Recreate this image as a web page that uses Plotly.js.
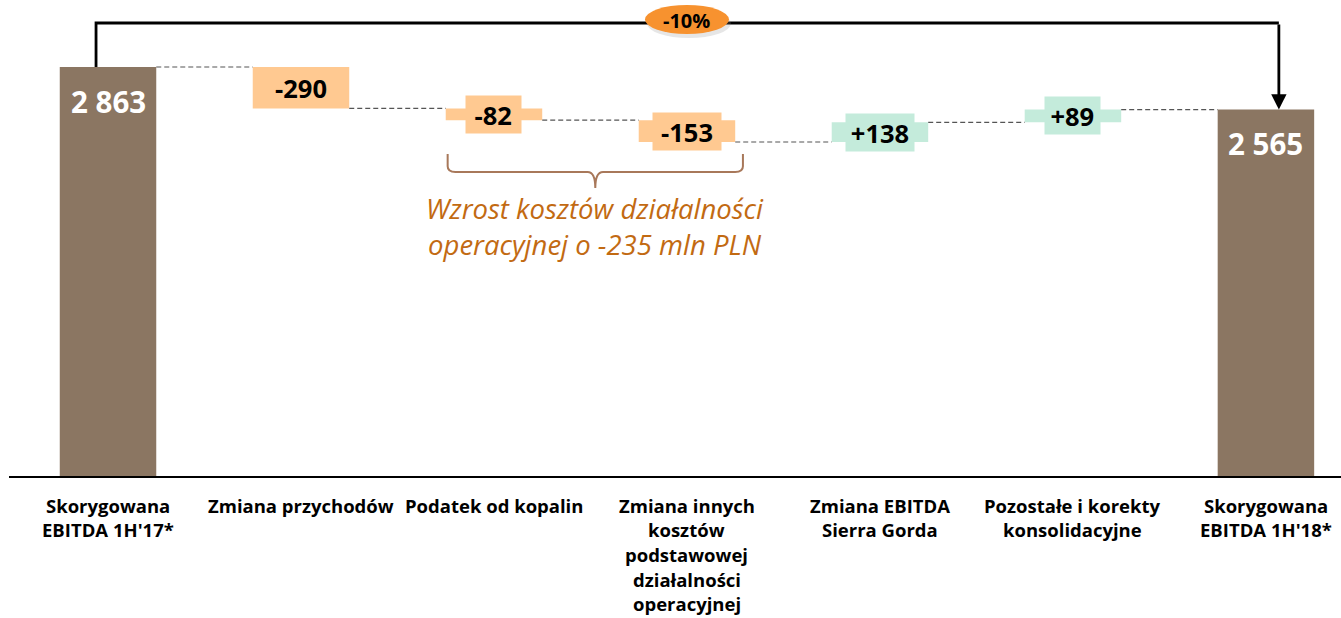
<!DOCTYPE html>
<html>
<head>
<meta charset="utf-8">
<script src="https://cdn.plot.ly/plotly-3.0.1.min.js"></script>
<style>html,body{margin:0;padding:0;background:#fff;}#chart{width:1341px;height:618px;}</style>
</head>
<body>
<div id="chart"></div>
<script>
const categories = [
  "Skorygowana<br>EBITDA 1H'17*",
  "Zmiana przychodów",
  "Podatek od kopalin",
  "Zmiana innych<br>kosztów<br>podstawowej<br>działalności<br>operacyjnej",
  "Zmiana EBITDA<br>Sierra Gorda",
  "Pozostałe i korekty<br>konsolidacyjne",
  "Skorygowana<br>EBITDA 1H'18*"
];
const measures = ["total", "relative", "relative", "relative", "relative", "relative", "total"];
const values = [2863, -290, -82, -153, 138, 89, 2565];
const valueLabels = ["2 863", "-290", "-82", "-153", "+138", "+89", "2 565"];
const changeLabel = "-10%";
const bracketNote = "Wzrost kosztów działalności<br>operacyjnej o -235 mln PLN";
const bracketFrom = 2, bracketTo = 3;

const FONT = "Open Sans, Noto Sans, sans-serif";
const C_TOTAL = "#8B7662", C_NEG = "#FFC991", C_POS = "#C4EBDB";

// compute bases
const bases = [], heights = [], ends = [];
let run = 0;
values.forEach((v, i) => {
  if (measures[i] === "total") { bases.push(0); heights.push(v); run = v; }
  else { const start = run; run = run + v; bases.push(Math.min(start, run)); heights.push(Math.abs(v)); }
  ends.push(run);
});
const idx = categories.map((_, i) => i);
const BW = 0.5;

function pick(cond) {
  const xs = [], ys = [], bs = [];
  idx.forEach(i => { if (cond(i)) { xs.push(i); ys.push(heights[i]); bs.push(bases[i]); } });
  return {x: xs, y: ys, base: bs};
}
const tot = pick(i => measures[i] === "total");
const neg = pick(i => measures[i] !== "total" && values[i] < 0);
const pos = pick(i => measures[i] !== "total" && values[i] >= 0);
const mk = (d, c) => ({type: "bar", x: d.x, y: d.y, base: d.base, width: BW, marker: {color: c, line: {width: 0}}, hoverinfo: "skip", showlegend: false});
const traces = [mk(tot, C_TOTAL), mk(neg, C_NEG), mk(pos, C_POS)];

const shapes = [];
const annotations = [];
// connectors
for (let i = 0; i < values.length - 1; i++) {
  shapes.push({type: "line", xref: "x", yref: "y", x0: i + BW / 2, x1: i + 1 - BW / 2, y0: ends[i], y1: ends[i],
    line: {color: "#555555", width: 1.2, dash: "5px,3px"}});
}
// value labels
idx.forEach(i => {
  if (measures[i] === "total") {
    annotations.push({x: i, y: heights[i], xref: "x", yref: "y", yanchor: "middle", yshift: -34, showarrow: false,
      text: "<b>" + valueLabels[i] + "</b>", font: {family: FONT, size: 29.5, color: "#ffffff"}});
  } else {
    const mid = bases[i] + heights[i] / 2;
    const w = valueLabels[i].length * 13.5 + 14;
    annotations.push({x: i, y: mid, xref: "x", yref: "y", yanchor: "middle", showarrow: false, width: w, height: 37,
      bgcolor: values[i] < 0 ? C_NEG : C_POS, borderpad: 0,
      text: "<b>" + valueLabels[i] + "</b>", font: {family: FONT, size: 25.5, color: "#000000"}});
  }
});
// category labels, one annotation per line
idx.forEach(i => {
  categories[i].split("<br>").forEach((ln, k) => {
    annotations.push({x: i, y: 0, xref: "x", yref: "paper", yanchor: "middle", yshift: -29 - 24.7 * k, showarrow: false,
      text: "<b>" + ln + "</b>", font: {family: FONT, size: 18.5, color: "#000000"}});
  });
});
// top bracket with arrow
const first = 0, last = values.length - 1;
const yTopLine = 3171;
const xl = first - 0.062, xr = last + 0.067;
shapes.push({type: "path", xref: "x", yref: "y",
  path: `M ${xl},${values[first]} L ${xl},${yTopLine} L ${xr},${yTopLine}`,
  line: {color: "#000000", width: 2.8}});
annotations.push({x: xr, y: values[last], ax: xr, ay: yTopLine, xref: "x", yref: "y", axref: "x", ayref: "y",
  showarrow: true, arrowhead: 2, arrowsize: 1.1, arrowwidth: 2.8, arrowcolor: "#000000", text: ""});
// ellipse with -10%
const xMidTop = 3;
shapes.push({type: "circle", xref: "x", yref: "y", xsizemode: "pixel", ysizemode: "pixel", xanchor: xMidTop, yanchor: yTopLine,
  x0: -40, x1: 44, y0: -15, y1: 14, fillcolor: "rgba(140,140,140,0.22)", line: {width: 0}});
shapes.push({type: "circle", xref: "x", yref: "y", xsizemode: "pixel", ysizemode: "pixel", xanchor: xMidTop, yanchor: yTopLine,
  x0: -42, x1: 42, y0: -11, y1: 18, fillcolor: "#F7922F", line: {width: 0}});
annotations.push({x: xMidTop, y: yTopLine, xref: "x", yref: "y", yshift: 3, showarrow: false,
  text: "<b>" + changeLabel + "</b>", font: {family: FONT, size: 20, color: "#000000"}});
// brace under cost bars
const bL = bracketFrom - 0.24, bR = bracketTo + 0.29, bM = (bL + bR) / 2;
const yB0 = 2254, yB1 = 2128, yB2 = 2016, dx = 0.04, dy = 40;
shapes.push({type: "path", xref: "x", yref: "y",
  path: `M ${bL},${yB0} L ${bL},${yB1 + dy} Q ${bL},${yB1} ${bL + dx},${yB1} L ${bM - dx},${yB1} Q ${bM},${yB1} ${bM},${yB2} Q ${bM},${yB1} ${bM + dx},${yB1} L ${bR - dx},${yB1} Q ${bR},${yB1} ${bR},${yB1 + dy} L ${bR},${yB0}`,
  line: {color: "#A8785A", width: 2}});
annotations.push({x: bM, y: 1746, xref: "x", yref: "y", yanchor: "middle", showarrow: false,
  text: "<i>" + bracketNote + "</i>", font: {family: FONT, size: 27.5, color: "#C26A12"}});

const layout = {
  width: 1341, height: 618,
  margin: {l: 9, r: 0, t: 0, b: 142},
  paper_bgcolor: "#ffffff", plot_bgcolor: "#ffffff",
  barmode: "overlay",
  xaxis: {range: [-0.513, 6.389], showgrid: false, zeroline: false, showticklabels: false, ticks: "",
    showline: true, linecolor: "#000000", linewidth: 2},
  yaxis: {range: [0, 3332], showgrid: false, zeroline: false, showticklabels: false, ticks: "", showline: false},
  shapes: shapes, annotations: annotations, showlegend: false,
  font: {family: FONT}
};
Plotly.newPlot("chart", traces, layout, {displayModeBar: false, staticPlot: true});
</script>
</body>
</html>
